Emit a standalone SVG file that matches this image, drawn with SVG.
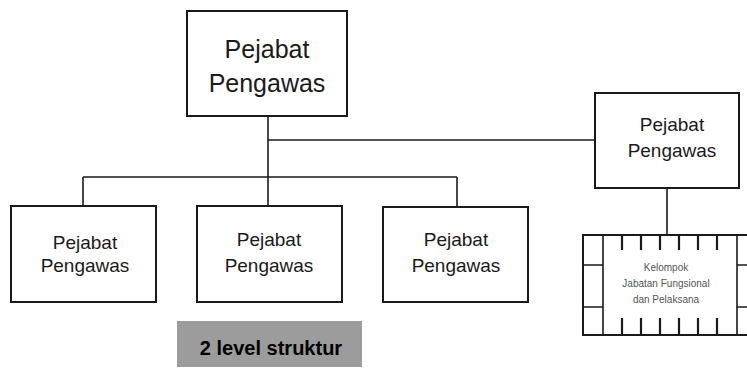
<svg xmlns="http://www.w3.org/2000/svg" width="747" height="368" viewBox="0 0 747 368">
  <style>
    .box { fill: #ffffff; stroke: #1a1a1a; stroke-width: 2; }
    .line { fill: none; stroke: #1a1a1a; stroke-width: 1.6; }
    .tick { fill: none; stroke: #1a1a1a; stroke-width: 2.2; }
    .lbl { font-family: "Liberation Sans", "DejaVu Sans", sans-serif; fill: #1a1a1a; text-anchor: middle; }
    .big { font-size: 25px; }
    .mid { font-size: 19px; }
    .tiny { font-size: 10px; fill: #555555; }
    .tag { font-family: "Liberation Sans", "DejaVu Sans", sans-serif; font-size: 20px; font-weight: bold; fill: #000000; text-anchor: middle; }
  </style>
  <rect width="747" height="368" fill="#ffffff"/>

  <!-- connectors -->
  <g id="connectors" class="line">
    <path d="M268 116 V208"/>
    <path d="M83 177 H457"/>
    <path d="M83 177 V206"/>
    <path d="M457 177 V207"/>
    <path d="M268 140 H595"/>
    <path d="M667 188 V235"/>
  </g>

  <g id="top">
    <rect class="box" x="187" y="11" width="160" height="105"/>
    <text class="lbl big" x="267" y="58">Pejabat</text>
    <text class="lbl big" x="267" y="92">Pengawas</text>
  </g>

  <g id="right">
    <rect class="box" x="595" y="93" width="144" height="95"/>
    <text class="lbl mid" x="672" y="131">Pejabat</text>
    <text class="lbl mid" x="672" y="157">Pengawas</text>
  </g>

  <g id="left">
    <rect class="box" x="11" y="206" width="145" height="96"/>
    <text class="lbl mid" x="85" y="249">Pejabat</text>
    <text class="lbl mid" x="85" y="272">Pengawas</text>
  </g>

  <g id="middle">
    <rect class="box" x="197" y="206" width="145" height="96"/>
    <text class="lbl mid" x="269" y="246">Pejabat</text>
    <text class="lbl mid" x="269" y="272">Pengawas</text>
  </g>

  <g id="third">
    <rect class="box" x="383" y="207" width="145" height="95"/>
    <text class="lbl mid" x="456" y="246">Pejabat</text>
    <text class="lbl mid" x="456" y="272">Pengawas</text>
  </g>

  <!-- framed group box with tick marks -->
  <g id="kelompok">
    <rect class="box" x="583" y="235" width="170" height="100"/>
    <g class="line">
      <path d="M603 235 V335"/>
      <path d="M737 235 V335"/>
      <path d="M583 265 H603 M583 307 H603"/>
      <path d="M737 265 H747 M737 307 H747"/>
    </g>
    <g class="tick">
      <path d="M622 235 v15 M641 235 v15 M660 235 v15 M679 235 v15 M698 235 v15 M717 235 v15"/>
      <path d="M622 335 v-17 M641 335 v-17 M660 335 v-17 M679 335 v-17 M698 335 v-17 M717 335 v-17"/>
    </g>
    <text class="lbl tiny" x="666" y="271">Kelompok</text>
    <text class="lbl tiny" x="666" y="287">Jabatan Fungsional</text>
    <text class="lbl tiny" x="666" y="303">dan Pelaksana</text>
  </g>

  <g id="caption">
    <rect x="177" y="321" width="185" height="46" fill="#9c9c9c"/>
    <text class="tag" x="271" y="355">2 level struktur</text>
  </g>
</svg>
